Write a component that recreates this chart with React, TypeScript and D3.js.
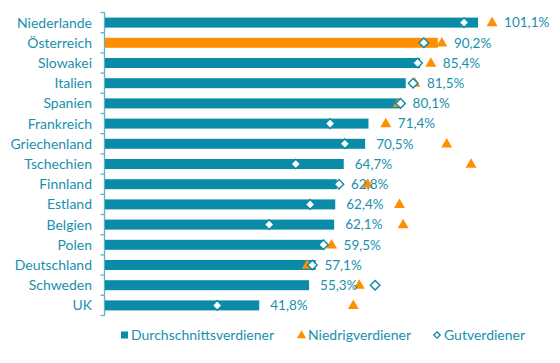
import * as d3 from 'd3'

const countries = ['Niederlande', 'Österreich', 'Slowakei', 'Italien', 'Spanien', 'Frankreich', 'Griechenland', 'Tschechien', 'Finnland', 'Estland', 'Belgien', 'Polen', 'Deutschland', 'Schweden', 'UK']
const average = [101.1, 90.2, 85.4, 81.5, 80.1, 71.4, 70.5, 64.7, 62.8, 62.4, 62.1, 59.5, 57.1, 55.3, 41.8]
const low = [104.9, 91.3, 88.3, 84.0, 79.5, 76.1, 92.6, 99.2, 71.2, 79.8, 80.8, 61.4, 54.8, 68.9, 67.3]
const high = [97.3, 86.4, 84.7, 83.5, 80.1, 61.0, 65.0, 51.7, 63.4, 55.6, 44.5, 59.2, 56.2, 73.2, 30.4]
const highlight = 'Österreich'
const legendLabels = ['Durchschnittsverdiener', 'Niedrigverdiener', 'Gutverdiener']

const W = 560
const H = 363
const TEAL = '#0a8ca8'
const ORANGE = '#ff8f00'
const TEXT = '#1990ad'
const FONT = 'Lato, "Open Sans", sans-serif'

export default function App() {
  const x = d3.scaleLinear().domain([0, 100]).range([105, 474])
  const y = d3.scaleBand<string>().domain(countries).range([12.5, 315.5])
  const bw = y.bandwidth()
  const barH = 10

  const tri = d3.symbol(d3.symbolTriangle, 52)()
  const diamond = 'M0,-4.8L4.8,0L0,4.8L-4.8,0Z'

  const boundaries = d3.range(countries.length + 1).map(i => 12.5 + i * bw)

  const fmt = (v: number) => v.toFixed(1).replace('.', ',') + '%'

  return (
    <svg width={W} height={H} style={{ position: 'absolute', left: 0, top: 0, background: '#fff' }} fontFamily={FONT}>
      {/* axis */}
      <line x1={104.5} x2={104.5} y1={12.5} y2={315.5} stroke="#5fb3c6" strokeWidth={1.3} />
      {boundaries.map((b, i) => (
        <line key={i} x1={100.5} x2={104.5} y1={b} y2={b} stroke="#5fb3c6" strokeWidth={1.3} />
      ))}

      {countries.map((c, i) => {
        const cy = (y(c) as number) + bw / 2
        const end = x(average[i])
        // labels move right of markers that sit just past the bar end
        const near = [x(low[i]), x(high[i])].filter(m => m > end - 6 && m < end + 22)
        const lx = near.length ? Math.max(...near) + 12 : end + 11
        return (
          <g key={c}>
            <text x={92} y={cy} dy="0.35em" textAnchor="end" fontSize={14} fill={TEXT}>{c}</text>
            <rect x={x(0)} y={cy - barH / 2} width={end - x(0)} height={barH} fill={c === highlight ? ORANGE : TEAL} />
            <path d={tri as string} transform={`translate(${x(low[i])},${cy + 0.5})`} fill={ORANGE} />
            <path d={diamond} transform={`translate(${x(high[i])},${cy})`} fill="#fff" stroke={TEAL} strokeWidth={1.4} />
            <text x={lx} y={cy} dy="0.35em" fontSize={13.5} fill={TEXT}>{fmt(average[i])}</text>
          </g>
        )
      })}

      {/* legend */}
      <g transform="translate(0,335)" fontSize={14} fill={TEXT}>
        <rect x={121} y={-3.5} width={7} height={7} fill={TEAL} />
        <text x={131} dy="0.35em">{legendLabels[0]}</text>
        <path d={d3.symbol(d3.symbolTriangle, 36)() as string} transform="translate(301.5,0.5)" fill={ORANGE} />
        <text x={308} dy="0.35em">{legendLabels[1]}</text>
        <path d="M0,-3.2L3.2,0L0,3.2L-3.2,0Z" transform="translate(437,0)" fill="#fff" stroke={TEAL} strokeWidth={1.3} />
        <text x={444} dy="0.35em">{legendLabels[2]}</text>
      </g>
    </svg>
  )
}
